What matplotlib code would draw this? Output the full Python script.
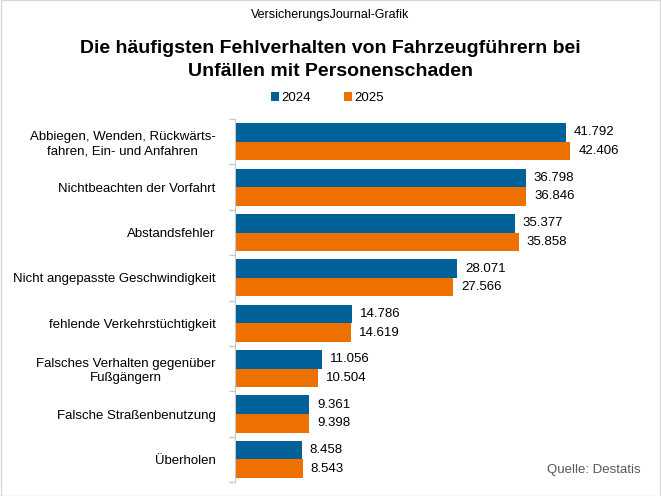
import numpy as np
import matplotlib.pyplot as plt

plt.rcParams['font.family'] = ['Liberation Sans', 'DejaVu Sans']

categories = [
    "Abbiegen, Wenden, Rückwärts-\nfahren, Ein- und Anfahren",
    "Nichtbeachten der Vorfahrt",
    "Abstandsfehler",
    "Nicht angepasste Geschwindigkeit",
    "fehlende Verkehrstüchtigkeit",
    "Falsches Verhalten gegenüber\nFußgängern",
    "Falsche Straßenbenutzung",
    "Überholen",
]
values_2024 = [41792, 36798, 35377, 28071, 14786, 11056, 9361, 8458]
values_2025 = [42406, 36846, 35858, 27566, 14619, 10504, 9398, 8543]
years = ["2024", "2025"]

blue = "#006098"
orange = "#ee7100"


def fmt(v):
    return f"{v:,}".replace(",", ".")


fig = plt.figure(figsize=(6.61, 4.96), dpi=100)
ax = fig.add_axes([0.3555, 0.028, 0.615, 0.732])

n = len(categories)
y = np.arange(n)
h = 0.41
b1 = ax.barh(y - h / 2, values_2024, height=h, color=blue, label=years[0])
b2 = ax.barh(y + h / 2, values_2025, height=h, color=orange, label=years[1])

for bars, vals in ((b1, values_2024), (b2, values_2025)):
    for bar, v in zip(bars, vals):
        ax.text(bar.get_width() + 1000, bar.get_y() + bar.get_height() / 2,
                fmt(v), va="center", ha="left", fontsize=9.5)

ax.set_xlim(0, 51400)
ax.set_ylim(n - 0.5, -0.5)
ax.set_xticks([])
ax.set_yticks(np.arange(-0.5, n, 1))
ax.set_yticklabels([])
ax.set_yticks(y, minor=True)
ax.set_yticklabels(categories, minor=True, fontsize=9.5, multialignment="center")
ax.tick_params(axis="y", which="minor", length=0, pad=14)
ax.tick_params(axis="y", which="major", length=4, color="#c8c8c8", width=1)
for s in ("top", "right", "bottom"):
    ax.spines[s].set_visible(False)
ax.spines["left"].set_color("#c8c8c8")

fig.text(0.5, 1 - 15 / 496, "VersicherungsJournal-Grafik", ha="center", va="center", fontsize=9)
fig.text(0.5, 1 - 60 / 496, "Die häufigsten Fehlverhalten von Fahrzeugführern bei\nUnfällen mit Personenschaden",
         ha="center", va="center", fontsize=14, fontweight="bold", linespacing=1.45)
fig.legend(handles=[b1, b2], labels=years, loc="center", bbox_to_anchor=(0.495, 1 - 98 / 496),
           ncol=2, frameon=False, fontsize=9.5, handlelength=0.6, handleheight=0.6,
           columnspacing=2.5, handletextpad=0.2)
fig.text(1 - 20 / 661, 1 - 470 / 496, "Quelle: Destatis", ha="right", va="center",
         fontsize=9.5, color="#595959")

fig.patches.append(plt.Rectangle((0.001, 0.001), 0.998, 0.998, transform=fig.transFigure,
                                 fill=False, edgecolor="#d9d9d9", linewidth=1))

fig.savefig("out.png", dpi=100)
